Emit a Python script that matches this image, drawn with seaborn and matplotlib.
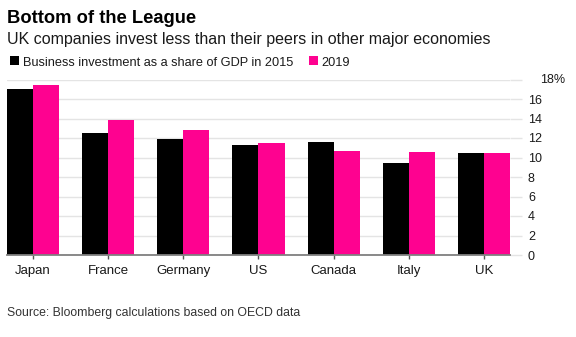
import matplotlib
matplotlib.use("Agg")
import matplotlib.pyplot as plt
import seaborn as sns
import pandas as pd
from matplotlib.patches import Rectangle

# ---- data ----
countries = ["Japan", "France", "Germany", "US", "Canada", "Italy", "UK"]
share_2015 = [17.0, 12.5, 11.9, 11.25, 11.55, 9.4, 10.45]
share_2019 = [17.45, 13.8, 12.8, 11.45, 10.7, 10.6, 10.45]
series_labels = ["Business investment as a share of GDP in 2015", "2019"]
y_ticks = [0, 2, 4, 6, 8, 10, 12, 14, 16, 18]
y_tick_labels = ["0", "2", "4", "6", "8", "10", "12", "14", "16", "18%"]
title = "Bottom of the League"
subtitle = "UK companies invest less than their peers in other major economies"
source = "Source: Bloomberg calculations based on OECD data"

BLACK = "#000000"
PINK = "#fe0290"
GRID = "#e4e4e4"
TEXT = "#1a1a1a"

df = pd.DataFrame({
    "country": countries * 2,
    "share": share_2015 + share_2019,
    "series": [series_labels[0]] * len(countries) + [series_labels[1]] * len(countries),
})

sns.set_theme(style="white")
plt.rcParams["font.family"] = ["Liberation Sans", "DejaVu Sans"]

W, H = 576, 337
fig = plt.figure(figsize=(W / 100, H / 100), dpi=100)
ax = fig.add_axes([7 / W, 1 - 255 / H, 503 / W, 175.5 / H])

sns.barplot(data=df, x="country", y="share", hue="series",
            palette=[BLACK, PINK], width=0.692, saturation=1,
            legend=False, ax=ax, linewidth=0)

ax.set_xlim(-0.346, 6.346)
ax.set_ylim(0, 18)
ax.set_xlabel("")
ax.set_ylabel("")

for s in ["top", "left", "right"]:
    ax.spines[s].set_visible(False)
ax.spines["bottom"].set_color("#808080")
ax.spines["bottom"].set_linewidth(1.3)

ax.set_axisbelow(True)
ax.yaxis.grid(True, color=GRID, linewidth=1.0)
ax.set_yticks(y_ticks)
ax.set_yticklabels([l if l != "18%" else "" for l in y_tick_labels])
ax.tick_params(axis="y", left=False, right=True, labelleft=False, labelright=True,
               length=8.6, width=1.0, color=GRID, pad=4.3, labelsize=9, labelcolor=TEXT)
ax.tick_params(axis="x", bottom=True, length=3, width=1.0, color="#555555",
               pad=4, labelsize=9.5, labelcolor=TEXT)

# top tick label with % sign, offset like reference
fig.text(540 / W, 1 - 80 / H, y_tick_labels[-1], fontsize=9, color=TEXT,
         ha="left", va="center")

# titles
fig.text(7 / W, 1 - 22.7 / H, title, fontsize=13.2, fontweight="bold",
         color="#000000", ha="left", va="baseline")
fig.text(7 / W, 1 - 44 / H, subtitle, fontsize=11.5, color=TEXT,
         ha="left", va="baseline")

# legend
leg_y = 1 - 65.7 / H
fig.patches.append(Rectangle((10 / W, 1 - 65 / H), 8.5 / W, 8.5 / H,
                             transform=fig.transFigure, facecolor=BLACK, edgecolor="none"))
fig.text(23 / W, leg_y, series_labels[0], fontsize=9.15, color=TEXT,
         ha="left", va="baseline")
fig.patches.append(Rectangle((309 / W, 1 - 65 / H), 8.5 / W, 8.5 / H,
                             transform=fig.transFigure, facecolor=PINK, edgecolor="none"))
fig.text(321 / W, leg_y, series_labels[1], fontsize=9.15, color=TEXT,
         ha="left", va="baseline")

# source
fig.text(7 / W, 1 - 316 / H, source, fontsize=8.8, color="#333333",
         ha="left", va="baseline")

fig.savefig("out.png", dpi=100)
